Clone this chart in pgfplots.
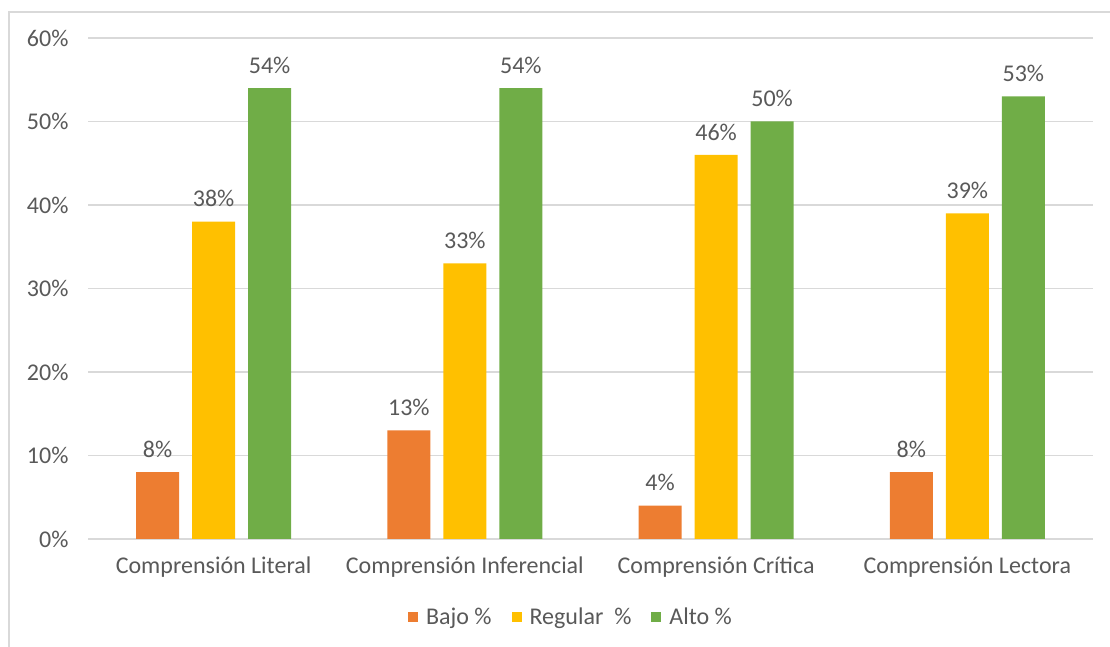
\documentclass[border=0pt]{standalone}
\usepackage{pgfplots}
\pgfplotsset{compat=1.18}
\usepackage{fontspec}
\setmainfont{Carlito}
\definecolor{cBajo}{HTML}{ED7D31}
\definecolor{cReg}{HTML}{FFC000}
\definecolor{cAlto}{HTML}{70AD47}
\definecolor{txt}{HTML}{595959}
\definecolor{grid}{HTML}{D9D9D9}
\begin{document}
\begin{tikzpicture}[x=1pt,y=1pt]
\path[use as bounding box] (0,0) rectangle (1110,647);
\draw[color=grid,line width=1.5pt] (9,-10) -- (9,635) -- (1120,635);
\begin{axis}[
  at={(88pt,108pt)}, anchor=south west,
  scale only axis, width=1005pt, height=501pt,
  ymin=0, ymax=60,
  xmin=-0.5, xmax=3.5,
  xtick={0,1,2,3},
  xticklabels={Comprensión Literal,Comprensión Inferencial,Comprensión Crítica,Comprensión Lectora},
  ytick={0,10,20,30,40,50,60},
  yticklabel={\pgfmathprintnumber{\tick}\%},
  /pgf/number format/assume math mode=true,
  ymajorgrids, grid style={color=grid,line width=1.2pt},
  axis line style={draw=none},
  axis x line*=bottom,
  x axis line style={draw=grid,line width=1.2pt},
  major tick length=0pt,
  tick label style={font=\fontsize{24}{28}\selectfont, color=txt},
  yticklabel style={xshift=-16pt},
  xticklabel style={yshift=-14pt},
  ybar=13pt, bar width=43pt,
  nodes near coords={\pgfmathprintnumber{\pgfplotspointmeta}\%},
  nodes near coords style={font=\fontsize{24}{28}\selectfont, color=txt, yshift=11pt},
  legend columns=3,
  legend style={at={(0.4806,-0.1557)}, anchor=center, draw=none, fill=none,
    font=\fontsize{24}{28}\selectfont, text=txt,
    /tikz/every odd column/.append style={column sep=6pt},
    /tikz/every even column/.append style={column sep=18pt}},
  legend image code/.code={\fill[#1] (0pt,-5pt) rectangle (10pt,5pt);},
]
\addplot[fill=cBajo, draw=none] coordinates {(0,8) (1,13) (2,4) (3,8)};
\addplot[fill=cReg, draw=none] coordinates {(0,38) (1,33) (2,46) (3,39)};
\addplot[fill=cAlto, draw=none] coordinates {(0,54) (1,54) (2,50) (3,53)};
\legend{Bajo \%, Regular\ \ \%, Alto \%}
\end{axis}
\end{tikzpicture}
\end{document}
